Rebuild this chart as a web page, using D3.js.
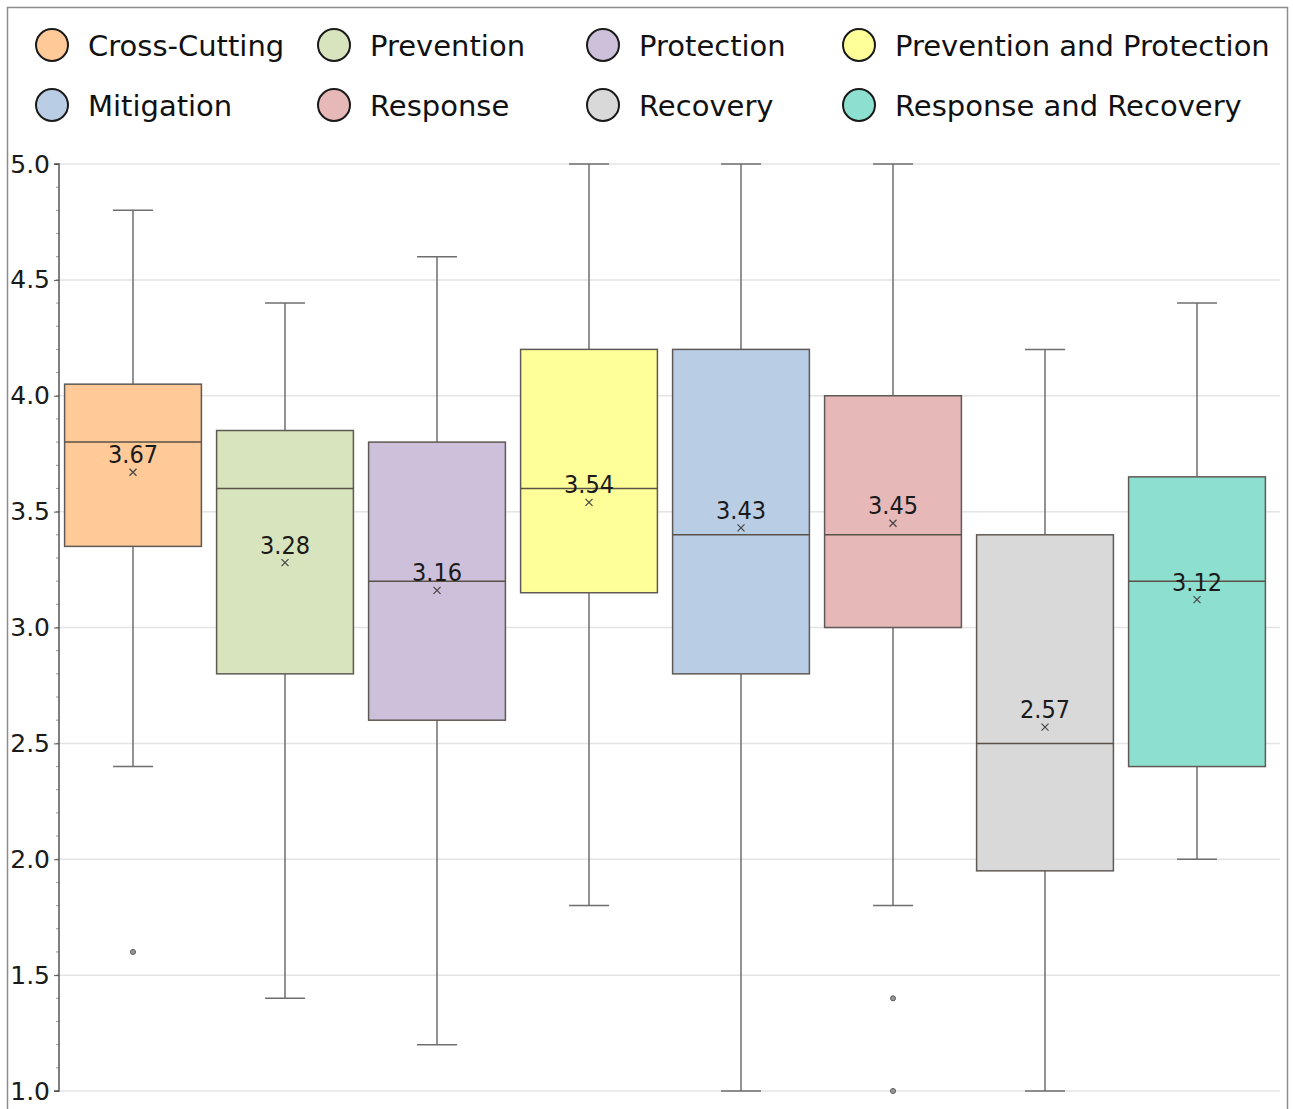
<!DOCTYPE html>
<html>
<head>
<meta charset="utf-8">
<script src="https://cdn.jsdelivr.net/npm/d3@7"></script>
<style>
  html, body { margin: 0; padding: 0; background: #fff; }
  svg { display: block; font-family: "DejaVu Sans Condensed", "DejaVu Sans", sans-serif; }
</style>
</head>
<body>
<svg id="chart" width="1293" height="1109"></svg>
<script>
// Mission-area score distributions (1–5 scale)
const categories = ["Cross-Cutting", "Prevention", "Protection", "Prevention and Protection",
                    "Mitigation", "Response", "Recovery", "Response and Recovery"];
const colors     = ["#ffc998", "#d7e4bd", "#ccc0da", "#ffff99", "#b9cde5", "#e6b9b8", "#d9d9d9", "#8ddfcf"];
const whiskerLow = [2.4, 1.4, 1.2, 1.8, 1.0, 1.8, 1.0, 2.0];
const q1         = [3.35, 2.8, 2.6, 3.15, 2.8, 3.0, 1.95, 2.4];
const median     = [3.8, 3.6, 3.2, 3.6, 3.4, 3.4, 2.5, 3.2];
const q3         = [4.05, 3.85, 3.8, 4.2, 4.2, 4.0, 3.4, 3.65];
const whiskerHigh= [4.8, 4.4, 4.6, 5.0, 5.0, 5.0, 4.2, 4.4];
const means      = [3.67, 3.28, 3.16, 3.54, 3.43, 3.45, 2.57, 3.12];
const outliers   = [[1.6], [], [], [], [], [1.4, 1.0], [], []];
const yTicks     = [1.0, 1.5, 2.0, 2.5, 3.0, 3.5, 4.0, 4.5, 5.0];

const svg = d3.select("#chart");

// outer frame
svg.append("rect")
  .attr("x", 7.5).attr("y", 7.5).attr("width", 1280).attr("height", 1120)
  .attr("fill", "#fff").attr("stroke", "#8c8c8c").attr("stroke-width", 1.5);

const plot = { left: 59, right: 1280, top: 164, bottom: 1091 };

const y = d3.scaleLinear().domain([1, 5]).range([plot.bottom, plot.top]);
const x = d3.scaleBand().domain(categories).range([57, 1273]).paddingInner(0.1).paddingOuter(0.05);

// horizontal gridlines
svg.append("g").selectAll("line").data(yTicks).join("line")
  .attr("x1", plot.left).attr("x2", plot.right)
  .attr("y1", d => y(d)).attr("y2", d => y(d))
  .attr("stroke", "#e4e4e4").attr("stroke-width", 1.5);

// y axis with minor ticks
const minor = d3.range(10, 51).map(d => d / 10);
svg.append("g").selectAll("line").data(minor).join("line")
  .attr("x1", plot.left - 3).attr("x2", plot.left)
  .attr("y1", d => y(d)).attr("y2", d => y(d))
  .attr("stroke", "#9a9a9a").attr("stroke-width", 1);

const axis = d3.axisLeft(y).tickValues(yTicks).tickFormat(d3.format(".1f")).tickSize(5).tickPadding(4);
const gAxis = svg.append("g").attr("transform", `translate(${plot.left},0)`).call(axis);
gAxis.select(".domain").attr("stroke", "#555").attr("stroke-width", 1.5).attr("d", `M-5,${plot.top}H0V${plot.bottom}H-5`);
gAxis.selectAll(".tick line").attr("stroke", "#555");
gAxis.selectAll(".tick text")
  .attr("font-size", 25).attr("fill", "#1a1a1a")
  .attr("font-family", "'DejaVu Sans', sans-serif");

// boxes
const bw = x.bandwidth();
const capW = 40;
const g = svg.append("g");
categories.forEach((c, i) => {
  const cx = x(c) + bw / 2;
  const gi = g.append("g");
  // whiskers
  gi.append("line").attr("x1", cx).attr("x2", cx).attr("y1", y(whiskerHigh[i])).attr("y2", y(q3[i]))
    .attr("stroke", "#6e6e6e").attr("stroke-width", 1.5);
  gi.append("line").attr("x1", cx).attr("x2", cx).attr("y1", y(q1[i])).attr("y2", y(whiskerLow[i]))
    .attr("stroke", "#6e6e6e").attr("stroke-width", 1.5);
  [whiskerHigh[i], whiskerLow[i]].forEach(v => {
    gi.append("line").attr("x1", cx - capW / 2).attr("x2", cx + capW / 2).attr("y1", y(v)).attr("y2", y(v))
      .attr("stroke", "#6e6e6e").attr("stroke-width", 1.5);
  });
  // box
  gi.append("rect").attr("x", x(c)).attr("width", bw)
    .attr("y", y(q3[i])).attr("height", y(q1[i]) - y(q3[i]))
    .attr("fill", colors[i]).attr("stroke", "#5f5a55").attr("stroke-width", 1.5);
  // median
  gi.append("line").attr("x1", x(c)).attr("x2", x(c) + bw).attr("y1", y(median[i])).attr("y2", y(median[i]))
    .attr("stroke", "#5a5148").attr("stroke-width", 1.5);
  // mean marker
  const my = y(means[i]), s = 3.5;
  gi.append("path").attr("d", `M${cx - s},${my - s}L${cx + s},${my + s}M${cx - s},${my + s}L${cx + s},${my - s}`)
    .attr("stroke", "#444").attr("stroke-width", 1.2);
  // mean label
  gi.append("text").attr("x", cx).attr("y", my - 9).attr("text-anchor", "middle")
    .attr("font-size", 25).attr("fill", "#1a1a1a").text(d3.format(".2f")(means[i]));
  // outliers
  gi.selectAll("circle").data(outliers[i]).join("circle")
    .attr("cx", cx).attr("cy", d => y(d)).attr("r", 2.5)
    .attr("fill", "#9a9a9a").attr("stroke", "#555").attr("stroke-width", 1);
});

// legend: two rows of four
const legX = [52, 334, 603, 859];
const legY = [45, 105];
const legend = svg.append("g");
categories.forEach((c, i) => {
  const col = i % 4, row = Math.floor(i / 4);
  const lg = legend.append("g").attr("transform", `translate(${legX[col]},${legY[row]})`);
  lg.append("circle").attr("r", 16).attr("fill", colors[i]).attr("stroke", "#1a1a1a").attr("stroke-width", 2);
  lg.append("text").attr("x", 36).attr("y", 11).attr("font-size", 29).attr("fill", "#111")
    .attr("font-family", "'DejaVu Sans', sans-serif").text(c);
});
</script>
</body>
</html>
